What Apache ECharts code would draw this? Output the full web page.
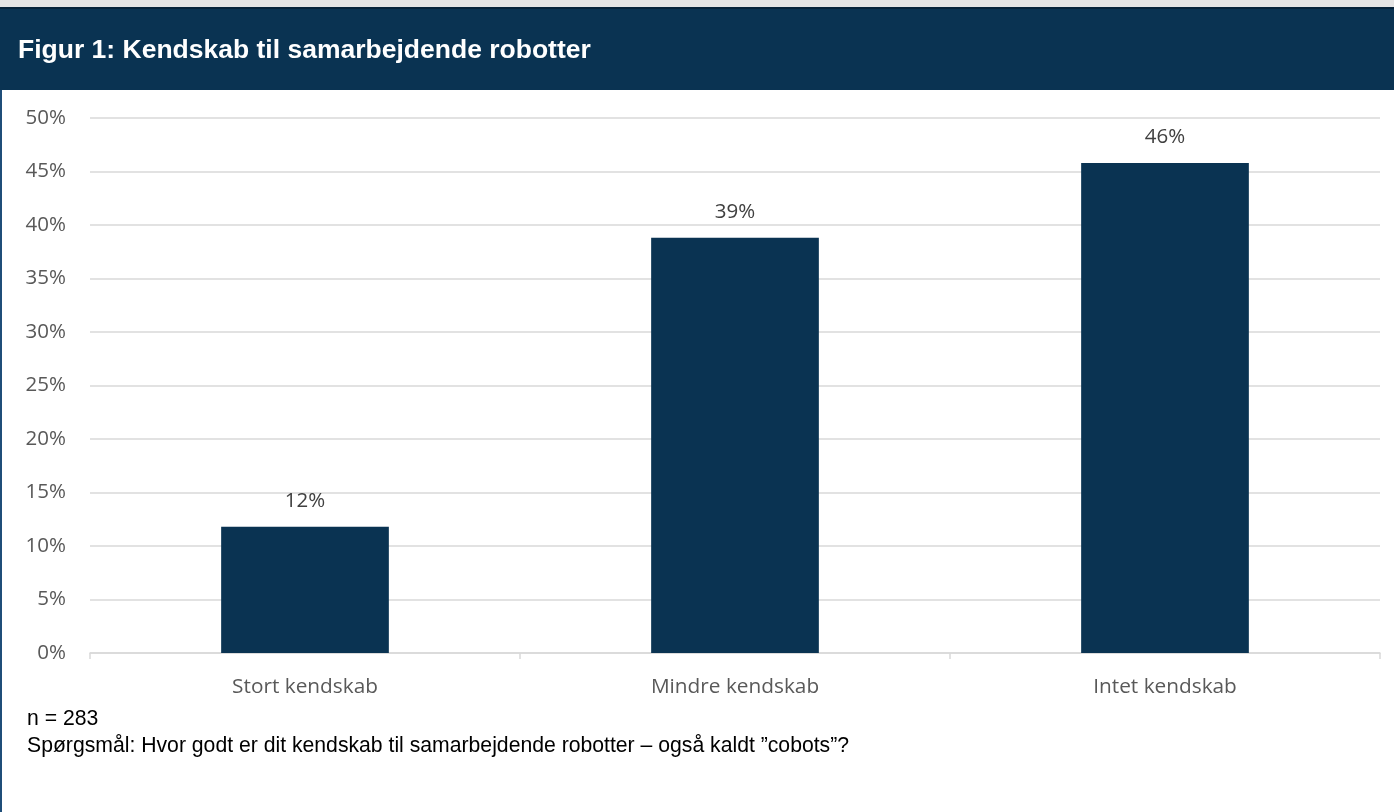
<!DOCTYPE html>
<html>
<head>
<meta charset="utf-8">
<script src="https://cdn.jsdelivr.net/npm/echarts@6/dist/echarts.min.js"></script>
<style>
  html, body { margin: 0; padding: 0; background: #fff; }
  #main { width: 1394px; height: 812px; }
</style>
</head>
<body>
<div id="main"></div>
<script>
  var categories = ['Stort kendskab', 'Mindre kendskab', 'Intet kendskab'];
  var values = [11.8, 38.8, 45.8];
  var yTicks = [0, 5, 10, 15, 20, 25, 30, 35, 40, 45, 50];

  var myChart = echarts.init(document.getElementById('main'));

  var option = {
    animation: false,
    grid: { left: 90, right: 14, top: 118, bottom: 159 },
    graphic: [
      { type: 'rect', shape: { x: 0, y: 0, width: 1394, height: 7 }, style: { fill: '#e4e4e4' } },
      { type: 'rect', shape: { x: 0, y: 7, width: 1394, height: 83 }, style: { fill: '#0a3352' } },
      { type: 'rect', shape: { x: 0, y: 7, width: 1394, height: 2 }, style: { fill: '#06233a' } },
      { type: 'rect', shape: { x: 0, y: 90, width: 2, height: 722 }, style: { fill: '#1f4e79' } },
      {
        type: 'text', left: 18, top: 37,
        style: { text: 'Figur 1: Kendskab til samarbejdende robotter', fill: '#fff',
          font: 'bold 26.5px "Liberation Sans", Arial, sans-serif' }
      },
      {
        type: 'text', left: 27, top: 709,
        style: { text: 'n = 283', fill: '#000', font: '21.2px "Liberation Sans", Arial, sans-serif' }
      },
      {
        type: 'text', left: 27, top: 736,
        style: { text: 'Spørgsmål: Hvor godt er dit kendskab til samarbejdende robotter – også kaldt ”cobots”?',
          fill: '#000', font: '21.2px "Liberation Sans", Arial, sans-serif' }
      }
    ],
    xAxis: {
      type: 'category',
      data: categories,
      axisLine: { lineStyle: { color: '#d9d9d9', width: 1.5 } },
      axisTick: { show: true, length: 6, lineStyle: { color: '#d9d9d9', width: 1.5 } },
      axisLabel: { color: '#595959', fontSize: 20.8, fontFamily: '"Open Sans", sans-serif', margin: 24 }
    },
    yAxis: {
      type: 'value',
      min: 0,
      max: 50,
      interval: 5,
      axisLine: { show: false },
      axisTick: { show: false },
      splitLine: { lineStyle: { color: '#d9d9d9', width: 1.5 } },
      axisLabel: {
        color: '#595959', fontSize: 20.5, fontFamily: '"Open Sans", sans-serif', margin: 24,
        formatter: function (v) { return yTicks.indexOf(v) >= 0 ? v + '%' : ''; }
      }
    },
    series: [{
      type: 'bar',
      data: values,
      barWidth: '39%',
      itemStyle: { color: '#0a3352' },
      label: {
        show: true, position: 'top', distance: 15,
        color: '#404040', fontSize: 20.5, fontFamily: '"Open Sans", sans-serif',
        formatter: function (p) { return Math.round(p.value) + '%'; }
      }
    }]
  };

  myChart.setOption(option);
</script>
</body>
</html>
